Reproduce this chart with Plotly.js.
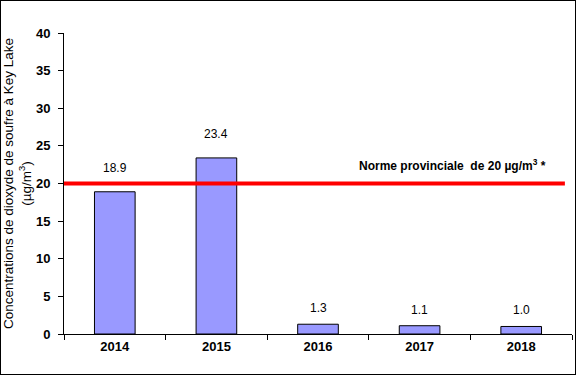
<!DOCTYPE html>
<html>
<head>
<meta charset="utf-8">
<script src="https://cdn.plot.ly/plotly-3.0.1.min.js"></script>
<style>
html, body { margin: 0; padding: 0; background: #fff; }
#chart { width: 576px; height: 375px; box-sizing: border-box; border: 1px solid #000; }
</style>
</head>
<body>
<div id="chart"></div>
<script>
const years = ["2014", "2015", "2016", "2017", "2018"];
const concentrations = [18.9, 23.4, 1.3, 1.1, 1.0];
const valueLabels = ["18.9", "23.4", "1.3", "1.1", "1.0"];
const standardValue = 20;
const standardLabel = "Norme provinciale  de 20 µg/m<sup>3</sup> *";
const yTitle = "Concentrations de dioxyde de soufre à Key Lake<br>(µg/m<sup>3</sup>)";

const font = "Arial, 'Liberation Sans', sans-serif";

const trace = {
  type: "bar",
  x: years,
  y: concentrations,
  width: 0.4,
  marker: { color: "#9999FF", line: { color: "#000", width: 1 } },
  hoverinfo: "skip"
};

const annotations = years.map((yr, i) => ({
  x: i, y: concentrations[i], xref: "x", yref: "y",
  text: valueLabels[i], showarrow: false,
  yanchor: "bottom", yshift: concentrations[i] > 10 ? 15 : 7,
  font: { family: font, size: 12, color: "#000" }
}));
annotations.push({
  x: 0.953, xref: "paper", xanchor: "right",
  y: 22.4, yref: "y", yanchor: "middle",
  text: "<b>" + standardLabel + "</b>", showarrow: false,
  font: { family: font, size: 12, color: "#000" }
});

const layout = {
  width: 574, height: 373,
  margin: { l: 63, r: 3, t: 32, b: 40 },
  paper_bgcolor: "#fff", plot_bgcolor: "#fff",
  showlegend: false,
  font: { family: font, size: 12, color: "#000" },
  xaxis: {
    type: "category",
    range: [-0.5, 4.5],
    showline: true, linecolor: "#000", linewidth: 1,
    ticks: "outside", ticklen: 5, tickcolor: "#000", tickson: "boundaries",
    tickfont: { family: font, size: 13, color: "#000", weight: "bold" },
    showgrid: false, zeroline: false, fixedrange: true
  },
  yaxis: {
    range: [0, 40], dtick: 5, tick0: 0,
    showline: true, linecolor: "#000", linewidth: 1,
    ticks: "outside", ticklen: 5, tickcolor: "#000",
    ticklabelstandoff: 5,
    tickfont: { family: font, size: 13, color: "#000", weight: "bold" },
    showgrid: false, zeroline: false, fixedrange: true,
    title: { text: yTitle, font: { family: font, size: 13.5, color: "#000" }, standoff: 4 }
  },
  shapes: [{
    type: "line", xref: "paper", yref: "y",
    x0: 0, x1: 0.986, y0: standardValue, y1: standardValue,
    line: { color: "#FF0000", width: 4 }, layer: "above"
  }],
  annotations: annotations
};

Plotly.newPlot("chart", [trace], layout, { displayModeBar: false, staticPlot: true });
</script>
</body>
</html>
